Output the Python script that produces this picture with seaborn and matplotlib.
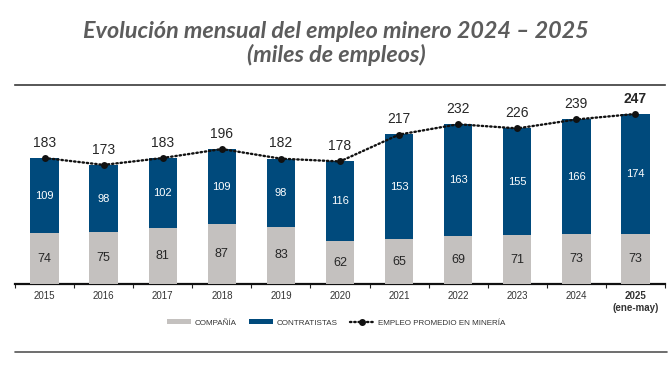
import matplotlib
matplotlib.use("Agg")
import numpy as np
import matplotlib.pyplot as plt
import seaborn as sns
from matplotlib.lines import Line2D
from matplotlib.patches import Patch

# ── Data (miles de empleos) ───────────────────────────────────────────────────
years = ["2015", "2016", "2017", "2018", "2019", "2020",
         "2021", "2022", "2023", "2024", "2025"]
compania = [74, 75, 81, 87, 83, 62, 65, 69, 71, 73, 73]
contratistas = [109, 98, 102, 109, 98, 116, 153, 163, 155, 166, 174]
promedio = [183, 173, 183, 196, 182, 178, 217, 232, 226, 239, 247]

GRAY = "#c4c1bf"
BLUE = "#004a7c"
TXT = "#262626"

sns.set_theme(style="white")
plt.rcParams["font.family"] = ["Liberation Sans", "DejaVu Sans"]

fig = plt.figure(figsize=(6.72, 3.67), dpi=100)
ax = fig.add_axes([15 / 672, 1 - 284 / 367, 650 / 672, 199 / 367])

stack = [c + k for c, k in zip(compania, contratistas)]
sns.barplot(x=years, y=stack, order=years, color=BLUE, width=0.48,
            saturation=1, linewidth=0, ax=ax, zorder=2)
sns.barplot(x=years, y=compania, order=years, color=GRAY, width=0.48,
            saturation=1, linewidth=0, ax=ax, zorder=3)

xpos = np.arange(len(years))
sns.lineplot(x=xpos, y=promedio, ax=ax, color="#111111", linewidth=1.7,
             linestyle=(0, (0.6, 1.2)), dash_capstyle="round",
             marker="o", markersize=5, markeredgewidth=0, zorder=5)

# ── Labels ───────────────────────────────────────────────────────────────────
for i in range(len(years)):
    ax.text(i, compania[i] / 2, str(compania[i]), ha="center", va="center",
            fontsize=9, color=TXT, zorder=6)
    ax.text(i, compania[i] + contratistas[i] / 2, str(contratistas[i]),
            ha="center", va="center", fontsize=8, color="white", zorder=6)
    last = i == len(years) - 1
    ax.annotate(str(promedio[i]), (i, promedio[i]), xytext=(0, 11),
                textcoords="offset points", ha="center", va="center",
                fontsize=10, color=TXT,
                fontweight="bold" if last else "normal", zorder=6)

ax.set_xlim(-0.5, len(years) - 0.5)
ax.set_ylim(0, 289)
ax.set_yticks([])
ax.set_ylabel("")
ax.set_xlabel("")

labels = years[:-1] + ["2025\n(ene-may)"]
ax.set_xticks(xpos)
ax.set_xticklabels(labels, fontsize=7, color="#333333")
ax.get_xticklabels()[-1].set_fontweight("bold")
ax.set_xticks(np.arange(-0.5, len(years)), minor=True)
ax.tick_params(axis="x", which="major", length=0, pad=5)
ax.tick_params(axis="x", which="minor", length=3, width=0.8,
               color="#222222", direction="out", bottom=True)

for side in ["left", "right"]:
    ax.spines[side].set_visible(False)
ax.spines["bottom"].set_color("#111111")
ax.spines["bottom"].set_linewidth(1.6)
ax.spines["top"].set_color("#3a3a3a")
ax.spines["top"].set_linewidth(1.2)

# bottom separator line
fig.add_artist(Line2D([15 / 672, 667 / 672], [1 - 352 / 367] * 2,
                      color="#555555", linewidth=1.2))

# ── Title ────────────────────────────────────────────────────────────────────
title_kw = dict(ha="center", va="center", fontsize=16.8, style="italic",
                fontweight="bold", color="#5c5c5c", family=["Lato", "DejaVu Sans"])
fig.text(0.5, 1 - 31 / 367, "Evolución mensual del empleo minero 2024 – 2025", **title_kw)
fig.text(0.5, 1 - 55 / 367, "(miles de empleos)", **title_kw)

# ── Legend ───────────────────────────────────────────────────────────────────
handles = [
    Patch(facecolor=GRAY, edgecolor="none", label="COMPAÑÍA"),
    Patch(facecolor=BLUE, edgecolor="none", label="CONTRATISTAS"),
    Line2D([0], [0], color="#111111", linewidth=1.7, linestyle=(0, (0.6, 1.2)),
           dash_capstyle="round", marker="o", markersize=4,
           label="EMPLEO PROMEDIO EN MINERÍA"),
]
fig.legend(handles=handles, loc="center", bbox_to_anchor=(0.5, 1 - 323 / 367),
           ncol=3, frameon=False, fontsize=5.8, handlelength=3.0,
           handleheight=0.6, handletextpad=0.4, columnspacing=1.6,
           labelcolor="#333333")

fig.savefig("out.png", dpi=100)
